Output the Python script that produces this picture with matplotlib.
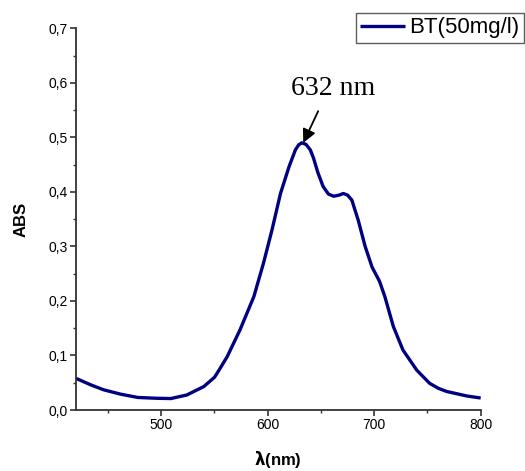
"""
UV-vis absorbance spectrum of BT (50 mg/l)
"""
import numpy as np
import matplotlib.pyplot as plt
from matplotlib import font_manager
from matplotlib.ticker import MultipleLocator, FuncFormatter

# wavelength (nm) and absorbance
wavelength = [420, 434, 446, 462, 478, 496, 509, 524, 540, 550, 553, 562, 574, 587, 596, 604,
              612, 620, 626, 629, 632, 636, 640, 643, 647, 652, 657, 662, 667, 671, 675, 679,
              685, 691.5, 698, 705, 710, 718, 727, 740, 752, 760, 768, 787, 800]
absorb = [0.058, 0.046, 0.037, 0.029, 0.023, 0.0215, 0.021, 0.0275, 0.043, 0.060, 0.069, 0.098,
          0.147, 0.208, 0.269, 0.330, 0.397, 0.446, 0.477, 0.486, 0.490, 0.487, 0.477, 0.462,
          0.436, 0.41, 0.396, 0.392, 0.394, 0.397, 0.394, 0.385, 0.348, 0.300, 0.262, 0.236,
          0.208, 0.153, 0.110, 0.073, 0.049, 0.040, 0.034, 0.0257, 0.022]
peak_x, peak_y = 632, 0.490
series_name = "BT(50mg/l)"

plt.rcParams['font.family'] = ['Liberation Sans', 'DejaVu Sans']

# the legend in the original uses a condensed face
installed = {f.name for f in font_manager.fontManager.ttflist}
if 'Liberation Sans Narrow' in installed:
    leg_font, leg_size = 'Liberation Sans Narrow', 18
else:
    leg_font, leg_size = 'Liberation Sans', 16

fig = plt.figure(figsize=(5.25, 4.71), dpi=100)
ax = fig.add_axes([0.1448, 0.1295, 0.7708, 0.8105])

line, = ax.plot(wavelength, absorb, color='#000080', lw=2.4,
                solid_joinstyle='round', solid_capstyle='butt')

ax.set_xlim(420, 800)
ax.set_ylim(0, 0.7)
ax.xaxis.set_major_locator(MultipleLocator(100))
ax.xaxis.set_minor_locator(MultipleLocator(50))
ax.yaxis.set_major_locator(MultipleLocator(0.1))
ax.yaxis.set_minor_locator(MultipleLocator(0.05))
ax.yaxis.set_major_formatter(FuncFormatter(lambda v, p: ("%.1f" % v).replace('.', ',')))

for s in ['top', 'right']:
    ax.spines[s].set_visible(False)
for s in ['left', 'bottom']:
    ax.spines[s].set_color('#333333')
    ax.spines[s].set_linewidth(1.3)

ax.tick_params(which='major', direction='out', length=4, width=1.2, color='#333333',
               labelsize=10, pad=2)
ax.tick_params(which='minor', direction='out', length=2.5, width=1.0, color='#333333')

ax.set_ylabel("ABS", fontsize=12, fontweight='bold', labelpad=14)
ax.set_xlabel(r"$\mathbf{\lambda}$(nm)", fontsize=12, fontweight='bold', labelpad=12)

# peak label and arrow
ax.text(661.5, 0.578, "632 nm", fontsize=20, family=['Liberation Serif', 'DejaVu Serif'],
        ha='center', va='baseline')
ax.annotate("", xy=(peak_x + 1.4, peak_y), xytext=(647.4, 0.548),
            arrowprops=dict(arrowstyle='-|>', color='black', lw=1.3, mutation_scale=20,
                            shrinkA=0, shrinkB=0))

leg = ax.legend([line], [series_name], loc='upper left', bbox_to_anchor=(0.692, 1.04),
                prop={'family': leg_font, 'size': leg_size}, frameon=True, fancybox=False,
                edgecolor='#333333', handlelength=2.0, handletextpad=0.2, borderpad=0.2,
                borderaxespad=0)
leg.get_frame().set_linewidth(1.0)

fig.savefig("out.png", dpi=100)
